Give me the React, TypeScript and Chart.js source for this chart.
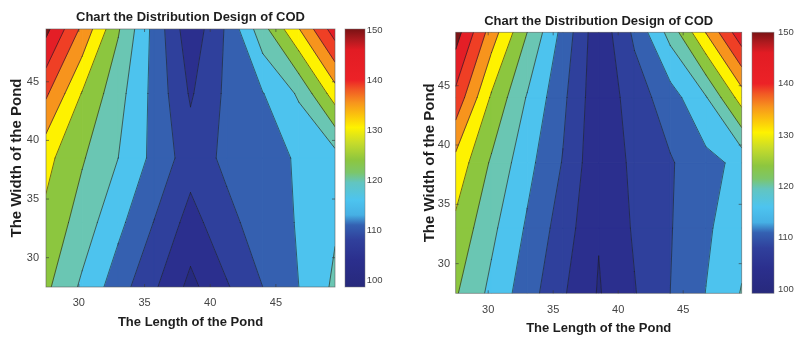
import React, { useEffect, useRef } from "react";
import { Chart, registerables } from "chart.js";

Chart.register(...registerables);

const FONT = '"Liberation Sans", Arial, Helvetica, sans-serif';
const TITLE = "Chart the Distribution Design of COD";
const X_LABEL = "The Length of the Pond";
const Y_LABEL = "The Width of the Pond";

// grid of the measured field
const POND_LENGTH = [27.5, 30.25, 33, 35.75, 38.5, 41.25, 44, 46.75, 49.5];
const POND_WIDTH = [27.5, 33, 38.5, 44, 49.5];

// left panel: COD values along each width row (bottom to top)
const LEFT_COD_W275 = [126, 119.1, 112.3, 105.7, 98.6, 104.5, 110, 115, 121];
const LEFT_COD_W330 = [128.8, 122.7, 116.3, 109.8, 103, 108.6, 112.3, 115.4, 119.4];
const LEFT_COD_W385 = [131.5, 125.5, 120, 113.6, 107.3, 111.1, 113.3, 115.5, 117.8];
const LEFT_COD_W440 = [140.8, 129.7, 121.8, 113.5, 104.4, 111, 114.8, 120.7, 132.6];
const LEFT_COD_W495 = [151.4, 138.9, 125.5, 113.4, 101.5, 110.7, 123.2, 134.8, 147.7];

// right panel
const RIGHT_COD_W275 = [125.5, 118.7, 112.3, 105.6, 99.6, 104.7, 110, 115.1, 120.3];
const RIGHT_COD_W330 = [128.8, 121.2, 114.3, 107.6, 100.3, 105.6, 109.7, 114.2, 118.3];
const RIGHT_COD_W385 = [133.3, 124.3, 116.6, 109.7, 101, 106.2, 109.5, 113.5, 116.3];
const RIGHT_COD_W440 = [143.5, 129.3, 119.6, 111.1, 101.4, 107.4, 112.8, 119.6, 132.4];
const RIGHT_COD_W495 = [152.3, 137.6, 125, 113.4, 101.5, 111, 121.8, 135.2, 148.5];

const CONTOUR_LEVELS = [100, 105, 110, 115, 120, 125, 130, 135, 140, 145, 150];
const BAND_COLORS = [
  "#262a80", "#2b2f8e", "#2f409c", "#3560b0", "#4dc3ee", "#6ac6b3",
  "#8cc63f", "#fef200", "#f7941d", "#ef3f25", "#e41e26", "#7d1416",
];
const AXIS_TICKS = [30, 35, 40, 45];
const COLORBAR_TICKS = [100, 110, 120, 130, 140, 150];
const LEFT_CB_RANGE = [98.6, 150.2];
const RIGHT_CB_RANGE = [99.2, 150];
const CB_STOP_VALUES = [98.6, 104, 108, 111, 113, 116, 119.5, 121.5, 124, 127.5, 130.5, 133, 135.5, 138, 140, 146, 148, 150.2];
const CB_STOP_COLORS = [
  "#27297c", "#2b2f8d", "#30409c", "#3461b2", "#46b0e4", "#4dc4ef", "#62c5c0", "#7cc66a",
  "#8dc63f", "#c8dc2a", "#fef200", "#fbc30d", "#f7941d", "#f15a24", "#ec2227", "#e21c24",
  "#b01a1f", "#7a1214",
];

type P = { x: number; y: number; z: number };

// nudge values that sit exactly on a contour level so crossings are found
function nudge(z: number): number {
  return CONTOUR_LEVELS.includes(z) ? z + 1e-6 : z;
}

function clip(poly: P[], level: number, keepAbove: boolean): P[] {
  const out: P[] = [];
  for (let i = 0; i < poly.length; i++) {
    const a = poly[i];
    const b = poly[(i + 1) % poly.length];
    const ina = keepAbove ? a.z >= level : a.z <= level;
    const inb = keepAbove ? b.z >= level : b.z <= level;
    if (ina) out.push(a);
    if (ina !== inb) {
      const t = (level - a.z) / (b.z - a.z);
      out.push({ x: a.x + t * (b.x - a.x), y: a.y + t * (b.y - a.y), z: level });
    }
  }
  return out;
}

type Lay = {
  canvasLeft: number;
  yAxisW: number;
  cbW: number;
  xAxisH: number;
  titleTop: number;
  titleBottom: number;
  yTitlePad: number;
  yTickPad: number;
  xTickPad: number;
  xTitlePad: number;
  cbTickPad: number;
  cbGap: number;
  cbWidth: number;
};

function cellQuads(rows: number[][]): P[][] {
  const quads: P[][] = [];
  for (let j = 0; j < POND_WIDTH.length - 1; j++) {
    for (let i = 0; i < POND_LENGTH.length - 1; i++) {
      quads.push([
        { x: POND_LENGTH[i], y: POND_WIDTH[j], z: nudge(rows[j][i]) },
        { x: POND_LENGTH[i + 1], y: POND_WIDTH[j], z: nudge(rows[j][i + 1]) },
        { x: POND_LENGTH[i + 1], y: POND_WIDTH[j + 1], z: nudge(rows[j + 1][i + 1]) },
        { x: POND_LENGTH[i], y: POND_WIDTH[j + 1], z: nudge(rows[j + 1][i]) },
      ]);
    }
  }
  return quads;
}

function contourPlugin(rows: number[][], cbRange: number[], lay: Lay) {
  return {
    id: "contour",
    beforeDatasetsDraw(chart: any) {
      const { ctx, chartArea: a, scales } = chart;
      const xs = scales.x;
      const ys = scales.y;
      const cb = scales.cb;
      const px = (v: number) => xs.getPixelForValue(v);
      const py = (v: number) => ys.getPixelForValue(v);
      const nb = CONTOUR_LEVELS.length + 1;
      const quads = cellQuads(rows);

      ctx.save();
      ctx.beginPath();
      ctx.rect(a.left, a.top, a.right - a.left, a.bottom - a.top);
      ctx.clip();
      ctx.lineJoin = "round";
      for (const quad of quads) {
        for (let k = 0; k < nb; k++) {
          let poly = quad;
          if (k > 0) poly = clip(poly, CONTOUR_LEVELS[k - 1], true);
          if (poly.length < 3) continue;
          if (k < nb - 1) poly = clip(poly, CONTOUR_LEVELS[k], false);
          if (poly.length < 3) continue;
          ctx.beginPath();
          poly.forEach((p, n) => (n ? ctx.lineTo(px(p.x), py(p.y)) : ctx.moveTo(px(p.x), py(p.y))));
          ctx.closePath();
          ctx.fillStyle = BAND_COLORS[k];
          ctx.fill();
          ctx.strokeStyle = BAND_COLORS[k];
          ctx.lineWidth = 1;
          ctx.stroke();
        }
      }
      ctx.strokeStyle = "rgba(30,32,40,0.8)";
      ctx.lineWidth = 0.8;
      ctx.lineCap = "round";
      for (const quad of quads) {
        for (const L of CONTOUR_LEVELS) {
          const pts: { x: number; y: number }[] = [];
          for (let e = 0; e < 4; e++) {
            const p = quad[e];
            const q = quad[(e + 1) % 4];
            if ((p.z - L) * (q.z - L) < 0) {
              const t = (L - p.z) / (q.z - p.z);
              pts.push({ x: p.x + t * (q.x - p.x), y: p.y + t * (q.y - p.y) });
            }
          }
          for (let s = 0; s + 1 < pts.length; s += 2) {
            ctx.beginPath();
            ctx.moveTo(px(pts[s].x), py(pts[s].y));
            ctx.lineTo(px(pts[s + 1].x), py(pts[s + 1].y));
            ctx.stroke();
          }
        }
      }
      ctx.restore();

      ctx.save();
      ctx.strokeStyle = "rgba(90,90,90,0.7)";
      ctx.lineWidth = 0.8;
      ctx.strokeRect(a.left, a.top, a.right - a.left, a.bottom - a.top);
      ctx.strokeStyle = "rgba(60,60,60,0.8)";
      for (const t of AXIS_TICKS) {
        const x = px(t);
        const y = py(t);
        ctx.beginPath();
        ctx.moveTo(x, a.bottom);
        ctx.lineTo(x, a.bottom - 3);
        ctx.moveTo(x, a.top);
        ctx.lineTo(x, a.top + 3);
        ctx.moveTo(a.left, y);
        ctx.lineTo(a.left + 3, y);
        ctx.moveTo(a.right, y);
        ctx.lineTo(a.right - 3, y);
        ctx.stroke();
      }

      const top = cb.getPixelForValue(cbRange[1]);
      const bottom = cb.getPixelForValue(cbRange[0]);
      const x0 = a.right + lay.cbGap;
      const g = ctx.createLinearGradient(0, bottom, 0, top);
      CB_STOP_VALUES.forEach((v, n) => {
        const f = Math.min(1, Math.max(0, (v - cbRange[0]) / (cbRange[1] - cbRange[0])));
        g.addColorStop(f, CB_STOP_COLORS[n]);
      });
      ctx.fillStyle = g;
      ctx.fillRect(x0, top, lay.cbWidth, bottom - top);
      ctx.strokeStyle = "rgba(120,120,120,0.6)";
      ctx.lineWidth = 0.8;
      ctx.strokeRect(x0, top, lay.cbWidth, bottom - top);
      ctx.restore();
    },
  };
}

function noPad(s: any) {
  s.paddingTop = 0;
  s.paddingBottom = 0;
  s.paddingLeft = 0;
  s.paddingRight = 0;
}

function makeConfig(rows: number[][], cbRange: number[], lay: Lay): any {
  const points: { x: number; y: number }[] = [];
  POND_WIDTH.forEach((y) => POND_LENGTH.forEach((x) => points.push({ x, y })));
  const tickFont = { family: FONT, size: 11 };
  const labelFont = { family: FONT, size: 13, weight: "bold" as const };
  return {
    type: "scatter",
    data: { datasets: [{ data: points, pointRadius: 0, showLine: false }] },
    options: {
      animation: false,
      responsive: false,
      devicePixelRatio: 1,
      events: [],
      layout: { padding: 0 },
      plugins: {
        legend: { display: false },
        tooltip: { enabled: false },
        title: {
          display: true,
          text: TITLE,
          fullSize: false,
          color: "#1e1e1e",
          font: labelFont,
          padding: { top: lay.titleTop, bottom: lay.titleBottom },
        },
      },
      scales: {
        x: {
          type: "linear",
          position: "bottom",
          min: POND_LENGTH[0],
          max: POND_LENGTH[POND_LENGTH.length - 1],
          grid: { display: false, drawTicks: false },
          border: { display: false },
          ticks: { autoSkip: false, maxRotation: 0, padding: lay.xTickPad, color: "#444", font: tickFont },
          afterBuildTicks: (s: any) => {
            s.ticks = AXIS_TICKS.map((v) => ({ value: v }));
          },
          afterFit: (s: any) => {
            s.height = lay.xAxisH;
            noPad(s);
          },
          title: { display: true, text: X_LABEL, color: "#1e1e1e", font: labelFont, padding: { top: 0, bottom: lay.xTitlePad } },
        },
        y: {
          type: "linear",
          position: "left",
          min: POND_WIDTH[0],
          max: POND_WIDTH[POND_WIDTH.length - 1],
          grid: { display: false, drawTicks: false },
          border: { display: false },
          ticks: { autoSkip: false, padding: lay.yTickPad, color: "#444", font: tickFont },
          afterBuildTicks: (s: any) => {
            s.ticks = AXIS_TICKS.map((v) => ({ value: v }));
          },
          afterFit: (s: any) => {
            s.width = lay.yAxisW;
            noPad(s);
          },
          title: {
            display: true,
            text: Y_LABEL,
            color: "#1e1e1e",
            font: { family: FONT, size: 15, weight: "bold" },
            padding: { top: lay.yTitlePad, bottom: 0 },
          },
        },
        cb: {
          type: "linear",
          position: "right",
          min: cbRange[0],
          max: cbRange[1],
          grid: { display: false, drawTicks: false },
          border: { display: false },
          ticks: { autoSkip: false, padding: lay.cbTickPad, color: "#444", font: { family: FONT, size: 9.5 } },
          afterBuildTicks: (s: any) => {
            s.ticks = COLORBAR_TICKS.map((v) => ({ value: v }));
          },
          afterFit: (s: any) => {
            s.width = lay.cbW;
            noPad(s);
          },
        },
      },
    },
    plugins: [contourPlugin(rows, cbRange, lay)],
  };
}

const LEFT_LAY: Lay = {
  canvasLeft: 0,
  yAxisW: 46,
  cbW: 63,
  xAxisH: 52,
  titleTop: 9.5,
  titleBottom: 3.9,
  yTitlePad: 8,
  yTickPad: 7,
  xTickPad: 9.4,
  xTitlePad: 8.7,
  cbTickPad: 31.7,
  cbGap: 10,
  cbWidth: 20,
};

const RIGHT_LAY: Lay = {
  canvasLeft: 398,
  yAxisW: 57.7,
  cbW: 54.3,
  xAxisH: 45.7,
  titleTop: 13.2,
  titleBottom: 3.5,
  yTitlePad: 23,
  yTickPad: 5.7,
  xTickPad: 10.1,
  xTitlePad: 2.7,
  cbTickPad: 36.3,
  cbGap: 10.3,
  cbWidth: 22,
};

function Panel({ rows, cbRange, lay }: { rows: number[][]; cbRange: number[]; lay: Lay }) {
  const ref = useRef<HTMLCanvasElement>(null);
  useEffect(() => {
    const chart = new Chart(ref.current as HTMLCanvasElement, makeConfig(rows, cbRange, lay));
    return () => chart.destroy();
  }, []);
  return (
    <canvas
      ref={ref}
      width={398}
      height={339}
      style={{ position: "absolute", left: lay.canvasLeft, top: 0, width: 398, height: 339 }}
    />
  );
}

export default function App() {
  return (
    <div style={{ position: "absolute", left: 0, top: 0, width: 796, height: 339, background: "#fff", overflow: "hidden" }}>
      <Panel
        rows={[LEFT_COD_W275, LEFT_COD_W330, LEFT_COD_W385, LEFT_COD_W440, LEFT_COD_W495]}
        cbRange={LEFT_CB_RANGE}
        lay={LEFT_LAY}
      />
      <Panel
        rows={[RIGHT_COD_W275, RIGHT_COD_W330, RIGHT_COD_W385, RIGHT_COD_W440, RIGHT_COD_W495]}
        cbRange={RIGHT_CB_RANGE}
        lay={RIGHT_LAY}
      />
    </div>
  );
}
